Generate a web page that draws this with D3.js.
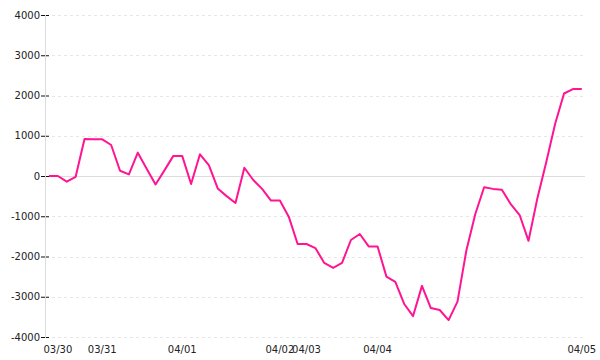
<!DOCTYPE html>
<html>
<head>
<meta charset="utf-8">
<script src="https://cdn.jsdelivr.net/npm/d3@7"></script>
<style>
  body { margin: 0; background: #fff; }
  text { font-family: "DejaVu Sans", sans-serif; font-size: 10px; fill: #222; }
</style>
</head>
<body>
<svg id="chart"></svg>
<script>
// series values, one per sample (index based x axis)
const values = [
  0, 0, -140, -20, 920, 910, 910, 770, 130, 40,
  580, 180, -210, 140, 500, 500, -200, 540, 270, -310,
  -500, -670, 205, -100, -320, -610, -610, -1010, -1690, -1690,
  -1790, -2160, -2280, -2160, -1590, -1440, -1750, -1750, -2500, -2630,
  -3180, -3480, -2730, -3280, -3330, -3580, -3120, -1850, -950, -280,
  -320, -340, -700, -970, -1610, -550, 350, 1300, 2050, 2160,
  2160
];
// date labels and the sample they sit under
const dayLabels = ['03/30', '03/31', '04/01', '04/02', '04/03', '04/04', '04/05'];
const dayIndex = [1, 6, 15, 26, 29, 37, 60];
const yTicks = [4000, 3000, 2000, 1000, 0, -1000, -2000, -3000, -4000];

const svgWidth = 600, svgHeight = 360;
const margin = { top: 15, left: 45 };
const width = 540, height = 322;

const svg = d3.select('#chart')
  .attr('width', svgWidth)
  .attr('height', svgHeight);

const g = svg.append('g')
  .attr('transform', 'translate(' + margin.left + ',' + margin.top + ')');

const x = d3.scaleLinear()
  .domain([0, values.length - 1])
  .range([4, 536.8]);
const y = d3.scaleLinear()
  .domain([-4000, 4000])
  .range([height, 0]);

// dashed grid
g.selectAll('.grid')
  .data(yTicks.filter(d => d !== 0))
  .enter()
  .append('line')
  .attr('class', 'grid')
  .attr('x1', 7).attr('x2', 538)
  .attr('y1', d => Math.round(y(d)) + 0.5)
  .attr('y2', d => Math.round(y(d)) + 0.5)
  .attr('stroke', '#e6e6e6')
  .attr('stroke-dasharray', '3,3');

// zero line
g.append('line')
  .attr('x1', 0).attr('x2', width)
  .attr('y1', Math.round(y(0)) + 0.5)
  .attr('y2', Math.round(y(0)) + 0.5)
  .attr('stroke', '#dddddd');

// y axis
const yAxis = d3.axisLeft(y)
  .tickValues(yTicks)
  .tickFormat(d => String(d))
  .tickSize(4)
  .tickPadding(1);
const gY = g.append('g').call(yAxis);
gY.select('.domain').remove();
gY.selectAll('.tick line')
  .attr('x1', -4).attr('x2', 4)
  .attr('stroke', '#111');
gY.selectAll('.tick text')
  .attr('x', -5)
  .style('font-family', '"DejaVu Sans", sans-serif')
  .style('font-size', '10px')
  .attr('fill', '#222');

// vertical axis line over the ticks
g.append('line')
  .attr('x1', 0.5).attr('x2', 0.5)
  .attr('y1', 0).attr('y2', height + 1)
  .attr('stroke', '#dcdcdc');

// x labels
g.selectAll('.xlabel')
  .data(dayLabels)
  .enter()
  .append('text')
  .attr('class', 'xlabel')
  .attr('x', (d, i) => x(dayIndex[i]))
  .attr('y', height + 16)
  .attr('text-anchor', 'middle')
  .text(d => d);

// line
const line = d3.line()
  .x((d, i) => x(i))
  .y(d => y(d));
g.append('path')
  .datum(values)
  .attr('d', line)
  .attr('fill', 'none')
  .attr('stroke', '#ff1493')
  .attr('stroke-width', 2)
  .attr('stroke-linejoin', 'round');
</script>
</body>
</html>
